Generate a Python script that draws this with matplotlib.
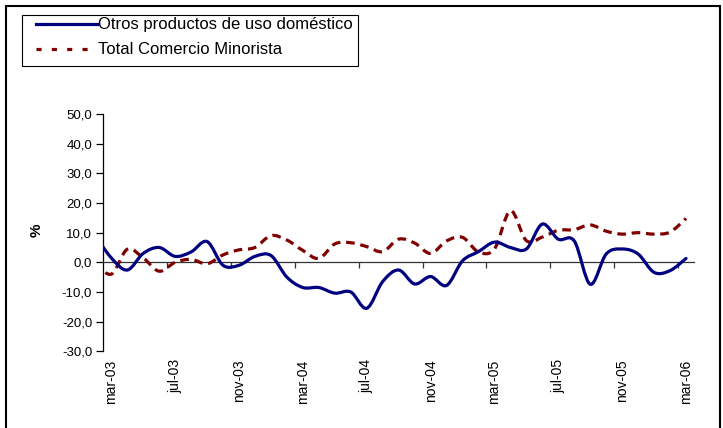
import numpy as np
import matplotlib
matplotlib.use("Agg")
from matplotlib import pyplot as plt
from matplotlib.path import Path
from matplotlib.patches import PathPatch, Rectangle
from matplotlib.lines import Line2D
import matplotlib.transforms as mtransforms

plt.rcParams["font.family"] = ["Liberation Sans", "DejaVu Sans"]

# monthly series, feb-03 .. mar-06 (feb-03 only shows as the line entering the plot)
meses = ["ene", "feb", "mar", "abr", "may", "jun", "jul", "ago", "sep", "oct", "nov", "dic"]
categorias = [f"{meses[(1 + i) % 12]}-{3 + (1 + i) // 12:02d}" for i in range(38)]

otros = [9.0, 1.5, -2.6, 3.0, 5.0, 2.0, 3.5, 7.0, -1.0, -1.0,
         2.0, 2.3, -5.0, -8.5, -8.5, -10.4, -10.0, -15.5, -6.5, -2.6,
         -7.3, -4.8, -7.8, 0.5, 3.6, 6.8, 5.0, 4.5, 12.9, 7.8,
         7.2, -7.4, 2.8, 4.5, 2.8, -3.4, -2.8, 1.3]
total = [0.0, -4.0, 4.4, 1.5, -3.0, 0.0, 1.0, -0.5, 2.5, 4.2,
         5.0, 9.0, 7.5, 4.0, 1.3, 6.2, 6.6, 5.3, 3.6, 7.8,
         6.5, 3.0, 7.2, 8.4, 3.5, 4.5, 17.4, 7.3, 8.5, 10.8,
         11.0, 12.6, 10.5, 9.5, 10.0, 9.5, 10.2, 14.8]

etiquetas = ["mar-03", "jul-03", "nov-03", "mar-04", "jul-04",
             "nov-04", "mar-05", "jul-05", "nov-05", "mar-06"]
yticks = [-30, -20, -10, 0, 10, 20, 30, 40, 50]
series_names = ["Otros productos de uso doméstico", "Total Comercio Minorista"]


def smooth_path(x, y):
    # excel-like smoothed line: cubic bezier through every point
    pts = np.column_stack([x, y])
    n = len(pts)
    verts = [pts[0]]
    codes = [Path.MOVETO]
    for i in range(n - 1):
        p0 = pts[max(i - 1, 0)]
        p1 = pts[i]
        p2 = pts[i + 1]
        p3 = pts[min(i + 2, n - 1)]
        verts += [p1 + (p2 - p0) / 6, p2 - (p3 - p1) / 6, p2]
        codes += [Path.CURVE4] * 3
    return Path(verts, codes)


W, H = 723, 428
fig = plt.figure(figsize=(W / 100, H / 100), dpi=100)
ax = fig.add_axes([103.3 / W, 1 - 351.3 / H, (694 - 103.3) / W, (351.3 - 114) / H])

x = np.arange(len(categorias)) - 1  # mar-03 -> 0
azul = "#000080"
rojo = "#800000"
dash = (0, (2.7, 1.8))

ax.add_patch(PathPatch(smooth_path(x, total), fill=False, ec=rojo, lw=2.3,
                       ls=dash, capstyle="butt", zorder=3))
ax.add_patch(PathPatch(smooth_path(x, otros), fill=False, ec=azul, lw=2.3,
                       capstyle="round", zorder=4))

ax.set_xlim(-0.5, 36.5)
ax.set_ylim(-30, 50)

for s in ["top", "right"]:
    ax.spines[s].set_visible(False)
ax.spines["left"].set_linewidth(0.9)
ax.spines["bottom"].set_position(("data", 0))
ax.spines["bottom"].set_linewidth(0.9)
ax.spines["bottom"].set_color("#333333")

ax.set_xticks(np.arange(3.5, 36, 4))
ax.tick_params(axis="x", direction="out", length=4, width=0.9, labelbottom=False, color="#333333")
ax.set_yticks(yticks)
ax.set_yticklabels([f"{v:.1f}".replace(".", ",") for v in yticks], fontsize=9.5)
ax.tick_params(axis="y", direction="out", length=5, width=0.9, pad=3)

lab_pos = [categorias.index(e) - 1 for e in etiquetas]
trans = mtransforms.offset_copy(ax.get_xaxis_transform(), fig=fig, x=0, y=-8, units="dots")
for p, e in zip(lab_pos, etiquetas):
    ax.text(p, 0, e, transform=trans, rotation=90, ha="center", va="top", fontsize=10)

fig.text(37 / W, 1 - 230 / H, "%", rotation=90, fontsize=11, fontweight="bold",
         ha="center", va="center")

# legend box drawn by hand, like the excel one
fig.patches.append(Rectangle((21.7 / W, 1 - 66 / H), (358 - 21.7) / W, (66 - 15) / H,
                             transform=fig.transFigure, fill=False, ec="black", lw=0.8))
fig.add_artist(Line2D([36 / W, 97 / W], [1 - 24 / H] * 2, color=azul, lw=2.3,
                      transform=fig.transFigure))
fig.add_artist(Line2D([36 / W, 97 / W], [1 - 49 / H] * 2, color=rojo, lw=2.3,
                      ls=(0, (1.6, 3.2)), transform=fig.transFigure))
fig.text(98 / W, 1 - 24 / H, series_names[0], fontsize=12, ha="left", va="center")
fig.text(98 / W, 1 - 49 / H, series_names[1], fontsize=12, ha="left", va="center")

fig.patches.append(Rectangle((6 / W, -0.02), (720 - 6) / W, 1.02 - 6 / H,
                             transform=fig.transFigure, fill=False, ec="black", lw=1.5))

fig.savefig("out.png", dpi=100)
